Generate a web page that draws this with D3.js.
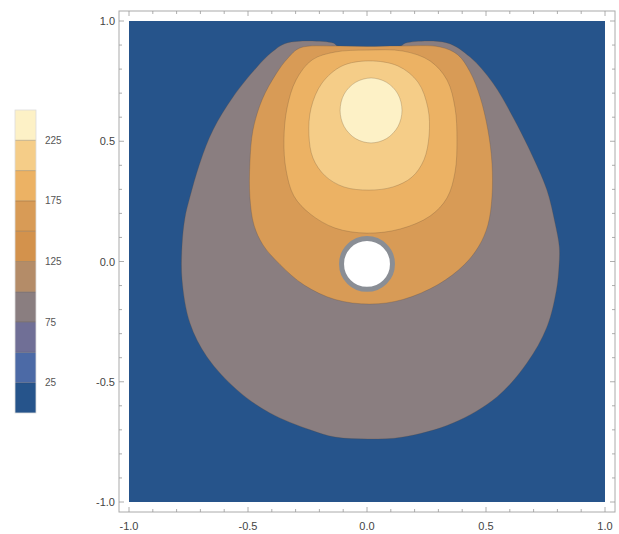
<!DOCTYPE html>
<meta charset="utf-8">
<head>
  <style>
  body { margin: 0; background: #fff; }
  .tick-label { font-family: "Liberation Sans", Arial, sans-serif; font-size: 11px; fill: #444; }
  .legend-label { font-family: "Liberation Sans", Arial, sans-serif; font-size: 10px; fill: #555; }
  </style>
</head>
<body>
<svg width="619" height="534"></svg>
<script src="https://d3js.org/d3.v7.min.js"></script>
<script>

// contour levels (band edges) and their colours
var levels = [0, 25, 50, 75, 100, 125, 150, 175, 200, 225, 250];
var bandColors = ["#26548b", "#4c6aa6", "#706f96", "#8a7e80", "#b48c68",
                  "#d3924c", "#d89b56", "#ecb264", "#f5cd88", "#fdf1c6"];
var legendLabels = [25, 75, 125, 175, 225];

// band boundaries (x, y in plot units)
var shell75 = [
  [-0.336, 0.909], [-0.143, 0.909], [-0.122, 0.896], [0.139, 0.896], [0.164, 0.909],
  [0.336, 0.909], [0.433, 0.850], [0.529, 0.742], [0.613, 0.601], [0.697, 0.435],
  [0.756, 0.297], [0.790, 0.160], [0.808, 0.060], [0.807, -0.015], [0.796, -0.118],
  [0.756, -0.272], [0.672, -0.422], [0.546, -0.563], [0.361, -0.672], [0.151, -0.730],
  [0.013, -0.738], [-0.134, -0.730], [-0.239, -0.700], [-0.408, -0.630], [-0.546, -0.534],
  [-0.672, -0.397], [-0.744, -0.256], [-0.777, -0.077], [-0.777, 0.069], [-0.765, 0.181],
  [-0.744, 0.268], [-0.702, 0.410], [-0.647, 0.547], [-0.563, 0.684], [-0.462, 0.809],
  [-0.399, 0.871]
];
var band150 = [
  [-0.282, 0.888], [-0.134, 0.896], [0.000, 0.894], [0.139, 0.896], [0.307, 0.892],
  [0.382, 0.859], [0.433, 0.788], [0.475, 0.684], [0.508, 0.547], [0.525, 0.410],
  [0.525, 0.268], [0.508, 0.152], [0.470, 0.064], [0.408, -0.014], [0.300, -0.095],
  [0.151, -0.158], [0.013, -0.177], [-0.134, -0.158], [-0.264, -0.098], [-0.366, -0.012],
  [-0.437, 0.069], [-0.475, 0.152], [-0.492, 0.268], [-0.492, 0.410], [-0.479, 0.547],
  [-0.441, 0.672], [-0.382, 0.780], [-0.332, 0.846]
];
var band175 = [
  [0.000, 0.879], [0.151, 0.875], [0.265, 0.834], [0.336, 0.755], [0.370, 0.638],
  [0.378, 0.505], [0.370, 0.372], [0.336, 0.264], [0.265, 0.189], [0.139, 0.135],
  [0.000, 0.118], [-0.134, 0.139], [-0.239, 0.198], [-0.307, 0.272], [-0.340, 0.380],
  [-0.349, 0.505], [-0.336, 0.638], [-0.298, 0.755], [-0.231, 0.838], [-0.134, 0.871]
];
var band200 = [
  [0.008, 0.834], [0.130, 0.813], [0.214, 0.746], [0.256, 0.638], [0.261, 0.526],
  [0.239, 0.422], [0.189, 0.351], [0.109, 0.310], [0.008, 0.297], [-0.097, 0.310],
  [-0.176, 0.356], [-0.227, 0.430], [-0.244, 0.526], [-0.235, 0.638], [-0.189, 0.742],
  [-0.105, 0.813]
];
var band225 = [
  [0.147, 0.628], [0.130, 0.696], [0.082, 0.745], [0.017, 0.763], [-0.048, 0.745],
  [-0.096, 0.696], [-0.113, 0.628], [-0.096, 0.561], [-0.048, 0.511], [0.017, 0.493],
  [0.082, 0.511], [0.130, 0.561]
];
var regions = [shell75, band150, band175, band200, band225];
var regionBand = [3, 6, 7, 8, 9];

// cylinder (hole) in plot units
var holeCenter = [0, -0.01];
var holeRadius = 0.107;

var xTicks = d3.range(-1, 1.0001, 0.1);
var yTicks = d3.range(-1, 1.0001, 0.1);
var labelTicks = [-1, -0.5, 0, 0.5, 1];

var svg = d3.select("svg");

var x = d3.scaleLinear().domain([-1, 1]).range([129, 605]);
var y = d3.scaleLinear().domain([-1, 1]).range([502, 21]);
var pad = 10;

// lowest band covers whole domain
svg.append("rect")
    .attr("x", x(-1)).attr("y", y(1))
    .attr("width", x(1) - x(-1)).attr("height", y(-1) - y(1))
    .attr("fill", bandColors[0]);

var line = d3.line()
    .x(function(d) { return x(d[0]); })
    .y(function(d) { return y(d[1]); })
    .curve(d3.curveCatmullRomClosed.alpha(0.5));

svg.append("g").selectAll("path")
    .data(regions)
    .enter().append("path")
    .attr("d", line)
    .attr("fill", function(d, i) { return bandColors[regionBand[i]]; })
    .attr("stroke", "rgba(90,70,50,0.3)")
    .attr("stroke-width", 0.8);

// cylinder
svg.append("circle")
    .attr("cx", x(holeCenter[0]))
    .attr("cy", y(holeCenter[1]))
    .attr("r", x(holeRadius) - x(0))
    .attr("fill", "#fff")
    .attr("stroke", "#8a8e95")
    .attr("stroke-width", 5);

// frame
var fx0 = x(-1) - pad, fx1 = x(1) + pad, fy0 = y(1) - pad, fy1 = y(-1) + pad;
svg.append("rect")
    .attr("x", fx0).attr("y", fy0)
    .attr("width", fx1 - fx0).attr("height", fy1 - fy0)
    .attr("fill", "none")
    .attr("stroke", "#aaa")
    .attr("stroke-width", 1);

function isMajor(v) { return Math.abs(v * 2 - Math.round(v * 2)) < 1e-6; }

var ticks = svg.append("g").attr("stroke", "#999").attr("stroke-width", 0.8);
xTicks.forEach(function(v) {
  var len = isMajor(v) ? 5 : 3;
  ticks.append("line").attr("x1", x(v)).attr("x2", x(v)).attr("y1", fy1).attr("y2", fy1 - len);
  ticks.append("line").attr("x1", x(v)).attr("x2", x(v)).attr("y1", fy0).attr("y2", fy0 + len);
});
yTicks.forEach(function(v) {
  var len = isMajor(v) ? 5 : 3;
  ticks.append("line").attr("y1", y(v)).attr("y2", y(v)).attr("x1", fx0).attr("x2", fx0 + len);
  ticks.append("line").attr("y1", y(v)).attr("y2", y(v)).attr("x1", fx1).attr("x2", fx1 - len);
});

var fmt = function(d) { return d3.format(".1f")(d).replace("−", "-"); };

svg.append("g").selectAll("text")
    .data(labelTicks)
    .enter().append("text")
    .attr("class", "tick-label")
    .attr("x", function(d) { return x(d); })
    .attr("y", fy1 + 18)
    .attr("text-anchor", "middle")
    .text(fmt);

svg.append("g").selectAll("text")
    .data(labelTicks)
    .enter().append("text")
    .attr("class", "tick-label")
    .attr("x", fx0 - 4)
    .attr("y", function(d) { return y(d) + 4; })
    .attr("text-anchor", "end")
    .text(fmt);

// legend
var ly = d3.scaleLinear().domain([0, 250]).range([413, 110]);
var legend = svg.append("g");
legend.selectAll("rect")
    .data(bandColors)
    .enter().append("rect")
    .attr("x", 15)
    .attr("width", 21)
    .attr("y", function(d, i) { return ly(levels[i + 1]); })
    .attr("height", function(d, i) { return ly(levels[i]) - ly(levels[i + 1]); })
    .attr("fill", function(d) { return d; });
legend.selectAll("line")
    .data(levels.slice(1, -1))
    .enter().append("line")
    .attr("x1", 15).attr("x2", 36)
    .attr("y1", function(d) { return ly(d); })
    .attr("y2", function(d) { return ly(d); })
    .attr("stroke", "rgba(60,50,40,0.35)")
    .attr("stroke-width", 0.8);
legend.append("rect")
    .attr("x", 15).attr("y", ly(250))
    .attr("width", 21).attr("height", ly(0) - ly(250))
    .attr("fill", "none").attr("stroke", "#ddd").attr("stroke-width", 0.8);
legend.selectAll("text")
    .data(legendLabels)
    .enter().append("text")
    .attr("class", "legend-label")
    .attr("x", 45)
    .attr("y", function(d) { return ly(d) + 3.5; })
    .text(function(d) { return d; });

</script>
</body>
